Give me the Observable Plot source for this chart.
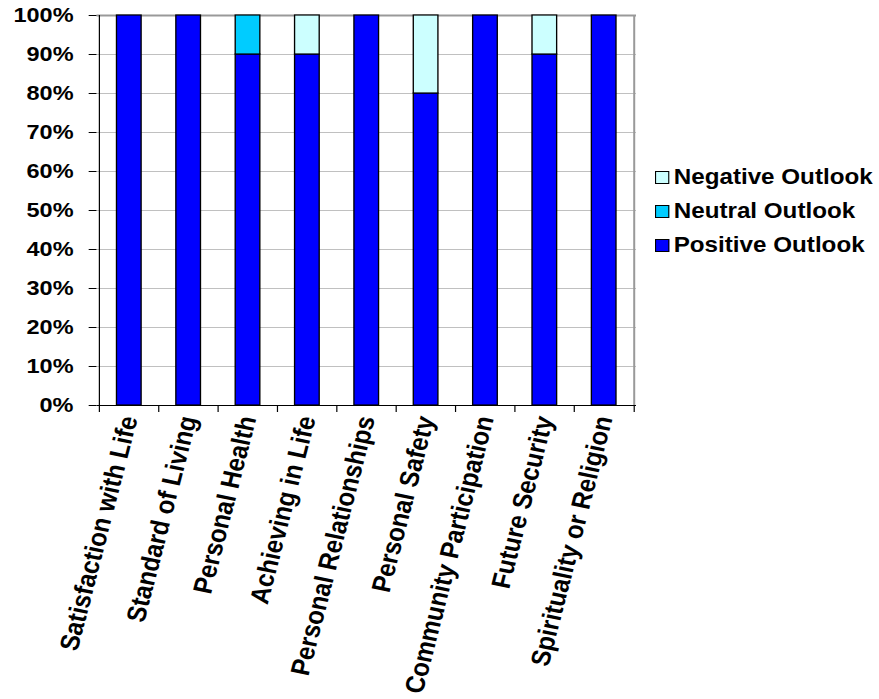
<!DOCTYPE html>
<html><head><meta charset="utf-8">
<script src="https://cdn.jsdelivr.net/npm/d3@7"></script>
<script src="https://cdn.jsdelivr.net/npm/@observablehq/plot@0.6"></script>
<style>
body{margin:0;background:#fff;font-family:"Liberation Sans",Arial,sans-serif;}
#wrap{position:relative;width:879px;height:699px;overflow:hidden;}
#legend{position:absolute;left:655px;top:160px;font-weight:bold;font-size:22px;color:#000;transform:scaleX(1.1);transform-origin:left top;white-space:nowrap;}
.item{display:flex;align-items:center;height:34px;}
.sw{width:11px;height:11px;border:1px solid #000;margin-right:4px;flex:none;}
</style></head><body>
<div id="wrap"><div id="chart"></div><div id="legend"></div></div>
<script>
const categories = ["Satisfaction with Life","Standard of Living","Personal Health","Achieving in Life","Personal Relationships","Personal Safety","Community Participation","Future Security","Spirituality or Religion"];
const positive = [100,100,90,90,100,80,100,90,100];
const neutral  = [0,0,10,0,0,0,0,0,0];
const negative = [0,0,0,10,0,20,0,10,0];
const seriesNames = ["Positive Outlook","Neutral Outlook","Negative Outlook"];
const seriesColors = ["#0000FF","#00CCFF","#CCFFFF"];
const legendOrder = ["Negative Outlook","Neutral Outlook","Positive Outlook"];
const yTicks = [0,0.1,0.2,0.3,0.4,0.5,0.6,0.7,0.8,0.9,1];

const S = 1.12;
const dispW = 660, H = 699;
const W = dispW / S;
const mL = 96.5 / S, mR = (dispW - 636) / S, mT = 15, mB = H - 405;
const plotW = W - mL - mR;
const step = plotW / categories.length;

const rows = [];
[positive, neutral, negative].forEach((vals, si) => vals.forEach((v, i) => {
  if (v > 0) rows.push({category: categories[i], series: seriesNames[si], value: v / 100});
}));

const font = "'Liberation Sans', Arial, sans-serif";
const tickDown = -7 / 390;
const last = categories[categories.length - 1];

const chart = Plot.plot({
  width: W, height: H,
  marginLeft: mL, marginRight: mR, marginTop: mT, marginBottom: mB,
  style: {fontFamily: font, fontWeight: "bold", fontSize: "21px", color: "#000", background: "#fff", overflow: "visible"},
  x: {domain: categories, paddingInner: 0.583, paddingOuter: 0.2915, label: null},
  y: {domain: [0, 1], label: null},
  color: {domain: seriesNames, range: seriesColors},
  marks: [
    Plot.ruleY(yTicks.filter(d => d > 0 && d < 1), {stroke: "#c0c0c0", strokeWidth: 1}),
    Plot.ruleY([1], {stroke: "#999", strokeWidth: 2}),
    Plot.ruleX([last], {dx: step / 2, y1: 0, y2: 1, stroke: "#999", strokeWidth: 2 / S}),
    Plot.barY(rows, {x: "category", y: "value", fill: "series", stroke: "#000", strokeWidth: 1.2}),
    Plot.ruleX([categories[0]], {dx: -step / 2, y1: 0, y2: 1, stroke: "#000", strokeWidth: 1.2 / S}),
    Plot.ruleY([0], {stroke: "#000", strokeWidth: 1.2}),
    Plot.ruleX(categories, {x: d => d, dx: -step / 2, y1: 0, y2: tickDown, stroke: "#000", strokeWidth: 1.2 / S}),
    Plot.ruleX([last], {dx: step / 2, y1: 0, y2: tickDown, stroke: "#000", strokeWidth: 1.2 / S}),
    Plot.axisY({ticks: yTicks, tickFormat: d => Math.round(d * 100) + "%", tickSize: 7, tickPadding: 14, fontSize: 21, fontWeight: "bold", stroke: "#000", label: null}),
    Plot.axisX({tickSize: 0, tickRotate: -77, tickPadding: 11, fontSize: 24, fontWeight: "bold", label: null})
  ]
});
chart.setAttribute("width", dispW);
chart.setAttribute("preserveAspectRatio", "none");
chart.style.width = dispW + "px";
chart.style.height = H + "px";
chart.style.maxWidth = "none";
document.getElementById("chart").appendChild(chart);

const legend = document.getElementById("legend");
legendOrder.forEach(name => {
  const item = document.createElement("div");
  item.className = "item";
  const sw = document.createElement("span");
  sw.className = "sw";
  sw.style.background = seriesColors[seriesNames.indexOf(name)];
  const t = document.createElement("span");
  t.textContent = name;
  item.appendChild(sw); item.appendChild(t);
  legend.appendChild(item);
});
</script>
</body></html>
